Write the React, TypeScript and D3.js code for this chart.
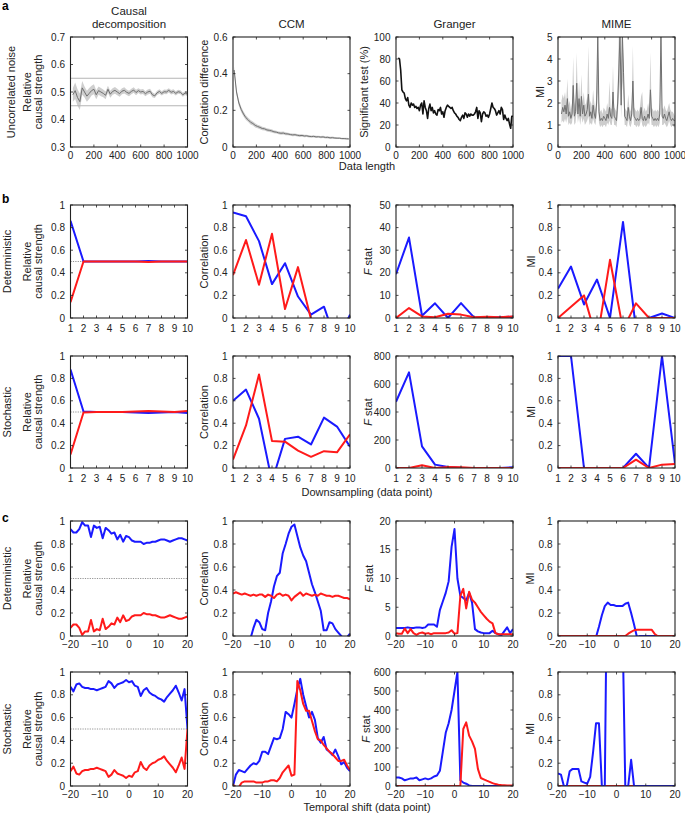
import React from "react";
import * as d3 from "d3";

const BLUE = "#1a1aff";
const RED = "#ff1a1a";
const FONT = "'Liberation Sans', Arial, Helvetica, sans-serif";

// ---------- Row a : uncorrelated noise vs data length ----------
const a1X = d3.range(20, 1001, 20);
const a1Mean = [
  0.49, 0.505, 0.48, 0.465, 0.515, 0.5, 0.485, 0.495, 0.505, 0.51,
  0.49, 0.505, 0.5, 0.495, 0.488, 0.51, 0.492, 0.502, 0.506, 0.5,
  0.494, 0.503, 0.506, 0.499, 0.495, 0.502, 0.507, 0.498, 0.505, 0.5,
  0.502, 0.494, 0.5, 0.503, 0.49, 0.486, 0.497, 0.502, 0.495, 0.501,
  0.5, 0.506, 0.499, 0.502, 0.495, 0.501, 0.499, 0.49, 0.496, 0.492,
];
const a1Spread = [
  0.025, 0.03, 0.03, 0.03, 0.025, 0.02, 0.02, 0.02, 0.018, 0.018,
  0.016, 0.015, 0.015, 0.014, 0.014, 0.013, 0.013, 0.012, 0.012, 0.012,
  0.011, 0.011, 0.011, 0.01, 0.01, 0.01, 0.01, 0.01, 0.009, 0.009,
  0.009, 0.009, 0.009, 0.009, 0.009, 0.008, 0.008, 0.008, 0.008, 0.008,
  0.008, 0.008, 0.008, 0.008, 0.008, 0.007, 0.007, 0.007, 0.007, 0.007,
];
const a1Bounds = [0.45, 0.55];

const ccmX = d3.range(10, 1000, 20);
const ccmMean = [
  0.42, 0.3, 0.24, 0.205, 0.18, 0.16, 0.148, 0.135, 0.128, 0.118,
  0.112, 0.107, 0.101, 0.099, 0.093, 0.091, 0.088, 0.083, 0.081, 0.077,
  0.075, 0.076, 0.072, 0.071, 0.068, 0.066, 0.067, 0.064, 0.062, 0.063,
  0.06, 0.061, 0.058, 0.057, 0.058, 0.055, 0.056, 0.054, 0.055, 0.052,
  0.053, 0.05, 0.051, 0.049, 0.048, 0.048, 0.046, 0.046, 0.045, 0.044,
];
const ccmSpread = [
  0.02, 0.018, 0.016, 0.015, 0.014, 0.013, 0.012, 0.012, 0.011, 0.011,
  0.01, 0.01, 0.01, 0.009, 0.009, 0.009, 0.009, 0.008, 0.008, 0.008,
  0.008, 0.008, 0.008, 0.007, 0.007, 0.007, 0.007, 0.007, 0.007, 0.007,
  0.007, 0.006, 0.006, 0.006, 0.006, 0.006, 0.006, 0.006, 0.006, 0.006,
  0.006, 0.006, 0.006, 0.006, 0.005, 0.005, 0.005, 0.005, 0.005, 0.005,
];

const grangerX = d3.range(20, 1001, 10);
const grangerSig = [
  81, 80, 70, 52, 50, 49, 44, 42, 45, 38,
  36, 40, 38, 39, 36, 37, 35, 36, 33, 38,
  40, 30, 42, 36, 33, 26, 35, 39, 33, 36,
  31, 33, 30, 29, 34, 33, 36, 30, 32, 27,
  33, 36, 38, 37, 36, 35, 36, 33, 31, 30,
  28, 27, 25, 24, 27, 29, 26, 31, 30, 27,
  30, 28, 30, 29, 29, 30, 32, 36, 26, 33,
  31, 23, 30, 32, 31, 28, 29, 27, 30, 35,
  40, 36, 35, 33, 29, 31, 33, 30, 36, 34,
  25, 29, 26, 24, 26, 21, 17, 28, 28,
];

const mimeX = d3.range(30, 1001, 10);
const mimeLine = [
  1.5, 1.8, 1.6, 1.9, 1.5, 2.2, 1.4, 1.6, 1.3, 1.5,
  2.8, 1.4, 1.6, 2.9, 1.5, 2.2, 1.4, 2.3, 1.5, 1.9,
  1.4, 1.5, 1.7, 2.4, 1.4, 1.6, 1.3, 1.9, 1.5, 1.3,
  2.0, 5.2, 1.6, 1.2, 1.3, 1.2, 1.4, 1.3, 1.2, 1.5,
  1.3, 1.8, 1.4, 1.3, 2.5, 1.4, 1.3, 1.2, 2.0, 3.5,
  5.2, 1.9, 5.2, 3.4, 1.4, 1.3, 1.2, 1.8, 1.4, 1.2,
  1.5, 3.0, 1.4, 1.3, 1.2, 1.3, 1.2, 1.3, 1.8, 1.3,
  1.2, 1.4, 1.2, 1.3, 1.5, 1.3, 2.6, 1.4, 1.3, 1.2,
  1.3, 1.2, 1.3, 1.2, 1.5, 5.2, 1.4, 1.3, 1.5, 1.3,
  1.2, 1.4, 1.6, 1.3, 1.2, 1.3, 1.2, 1.2,
];
const mimeUpper = [
  2.1, 2.4, 2.2, 2.5, 2.0, 3.1, 1.9, 2.1, 1.7, 2.0,
  4.1, 1.9, 2.2, 4.3, 2.0, 3.0, 1.9, 3.3, 2.0, 2.5,
  1.9, 2.0, 2.3, 4.6, 1.9, 2.1, 1.8, 2.6, 2.0, 1.7,
  2.6, 5.2, 2.1, 1.6, 1.7, 1.5, 1.8, 1.7, 1.6, 2.0,
  1.7, 3.0, 1.8, 1.7, 3.7, 1.8, 1.7, 1.6, 2.6, 5.2,
  5.2, 2.5, 5.2, 4.0, 1.8, 1.7, 1.6, 2.4, 1.8, 1.6,
  2.0, 4.6, 1.8, 1.7, 1.6, 1.7, 1.6, 1.8, 2.3, 2.5,
  1.6, 1.8, 1.6, 1.7, 2.0, 1.7, 4.3, 1.8, 1.7, 1.6,
  1.7, 1.6, 1.7, 1.6, 2.0, 5.2, 1.8, 1.7, 1.9, 1.7,
  1.6, 1.8, 2.0, 1.7, 1.6, 1.6, 1.5, 1.4,
];
const mimeLower = [
  1.1, 1.2, 1.1, 1.3, 1.1, 1.4, 1.0, 1.1, 1.0, 1.1,
  1.6, 1.0, 1.1, 1.7, 1.1, 1.4, 1.0, 1.4, 1.1, 1.3,
  1.0, 1.1, 1.2, 1.4, 1.0, 1.1, 1.0, 1.3, 1.1, 1.0,
  1.4, 2.5, 1.1, 0.9, 1.0, 0.9, 1.0, 1.0, 0.9, 1.1,
  1.0, 1.2, 1.0, 1.0, 1.5, 1.0, 1.0, 0.9, 1.4, 2.2,
  3.0, 1.3, 3.0, 2.2, 1.0, 1.0, 0.9, 1.3, 1.0, 0.9,
  1.1, 1.8, 1.0, 1.0, 0.9, 1.0, 0.9, 1.0, 1.3, 1.0,
  0.9, 1.0, 0.9, 1.0, 1.1, 1.0, 1.6, 1.0, 1.0, 0.9,
  1.0, 0.9, 1.0, 0.9, 1.1, 3.0, 1.0, 1.0, 1.1, 1.0,
  0.9, 1.0, 1.2, 1.0, 0.9, 1.0, 0.9, 0.9,
];

// ---------- Row b : downsampling ----------
const dsX = d3.range(1, 11);
const bDetCdBlue = [0.86, 0.5, 0.5, 0.5, 0.5, 0.5, 0.505, 0.5, 0.5, 0.5];
const bDetCdRed = [0.14, 0.5, 0.5, 0.5, 0.5, 0.5, 0.495, 0.5, 0.5, 0.5];
const bDetCcmBlue = [0.935, 0.9, 0.68, 0.3, 0.485, 0.19, 0.03, 0.1, -0.233, 0.03];
const bDetCcmRed = [0.38, 0.69, 0.295, 0.745, 0.08, 0.45, -0.01, -0.3, -0.3, -0.3];
const bDetGcBlue = [19.4, 35.6, 1.0, 6.5, 0, 6.6, 0.3, 0, 0.3, 0.6];
const bDetGcRed = [0, 4.4, 0.7, 0.3, 1.9, 1.5, 0.3, 0.6, 0.3, 0.7];
const bDetMiBlue = [0.26, 0.455, 0.12, 0.34, 0, 0.85, -0.1, 0, 0.04, 0];
const bDetMiRed = [0, 0.1, 0.2, -0.2, 0.515, -0.1, 0.13, 0, 0, 0];

const bStoCdBlue = [0.88, 0.505, 0.5, 0.5, 0.5, 0.495, 0.49, 0.495, 0.5, 0.49];
const bStoCdRed = [0.12, 0.495, 0.5, 0.5, 0.5, 0.505, 0.51, 0.505, 0.5, 0.51];
const bStoCcmBlue = [0.6, 0.7, 0.44, -0.12, 0.26, 0.28, 0.21, 0.45, 0.37, 0.19];
const bStoCcmRed = [0.075, 0.38, 0.835, 0.24, 0.235, 0.155, 0.1, 0.15, 0.14, 0.3];
const bStoGcBlue = [473, 683, 154, 24, 7, 0, 0, 0, 0, 5];
const bStoGcRed = [0, 0, 19, 0, 7, 5, 0, 0, 0, 0];
const bStoMiBlue = [1, 1, 0, 0, 0, 0, 0.127, 0, 1.0, 0.04];
const bStoMiRed = [0, 0, 0, 0, 0, 0, 0.074, 0, 0.03, 0.035];

// ---------- Row c : temporal shift ----------
const shiftX = d3.range(-20, 21);
const cDetCdBlue = [
  0.93, 0.9, 0.9, 0.93, 0.99, 0.96, 0.96, 0.86, 0.96, 0.94,
  0.95, 0.85, 0.94, 0.92, 0.89, 0.9, 0.84, 0.88, 0.82, 0.87,
  0.86, 0.83, 0.82, 0.82, 0.82, 0.8, 0.81, 0.81, 0.82, 0.82,
  0.83, 0.84, 0.84, 0.83, 0.82, 0.83, 0.84, 0.85, 0.85, 0.84, 0.83,
];
const cDetCdRed = [
  0.07, 0.1, 0.1, 0.07, 0.01, 0.04, 0.04, 0.14, 0.04, 0.06,
  0.05, 0.15, 0.06, 0.08, 0.11, 0.1, 0.16, 0.12, 0.18, 0.13,
  0.14, 0.17, 0.18, 0.18, 0.18, 0.2, 0.19, 0.19, 0.18, 0.18,
  0.17, 0.16, 0.16, 0.17, 0.18, 0.17, 0.16, 0.15, 0.15, 0.16, 0.17,
];
const cDetCcmBlue = [
  -0.4, -0.35, -0.3, -0.25, -0.2, -0.12, -0.02, 0.07, 0.14, 0.12,
  0.06, 0.05, 0.2, 0.3, 0.43, 0.52, 0.55, 0.72, 0.8, 0.89,
  0.95, 0.97, 0.87, 0.77, 0.7, 0.65, 0.55, 0.45, 0.38, 0.3,
  0.22, 0.05, 0.05, 0.12, 0.11, 0.06, 0.03, 0.0, -0.03, -0.01, 0.02,
];
const cDetCcmRed = [
  0.37, 0.38, 0.37, 0.36, 0.37, 0.36, 0.35, 0.36, 0.35, 0.36,
  0.36, 0.34, 0.36, 0.35, 0.33, 0.36, 0.37, 0.35, 0.36, 0.35,
  0.31, 0.34, 0.36, 0.38, 0.35, 0.37, 0.36, 0.35, 0.36, 0.35,
  0.37, 0.36, 0.35, 0.35, 0.34, 0.35, 0.35, 0.34, 0.33, 0.33, 0.32,
];
const cDetGcBlue = [
  1.4, 1.4, 1.4, 1.4, 1.5, 1.4, 1.4, 1.5, 1.5, 1.4,
  1.5, 2.0, 2.0, 2.0, 1.6, 4.5, 6.0, 7.5, 9.5, 15.5,
  18.6, 10.0, 7.0, 6.6, 6.2, 7.5, 5.8, 1.2, 0.8, 0.6,
  0.5, 0.5, 0.5, 0.9, 0.5, 0.3, 0.1, 0.8, 1.5, 0.5, 1.2,
];
const cDetGcRed = [
  0.5, 0.4, 0.4, 1.3, 0.5, 1.2, 0.5, 0.2, 0.5, 0.6,
  0.4, 0.5, 0.3, 0.5, 0.5, 0.5, 0.5, 0.5, 0.6, 1.0,
  0.4, 0.5, 7.0, 8.2, 4.8, 7.7, 6.3, 5.8, 5.0, 4.2,
  3.6, 3.0, 2.5, 2.2, 0.5, 0.3, 0.3, 0.3, 0.3, 0.3, 0.3,
];
const cDetMiBlue = [
  0, 0, 0, 0, 0, 0, 0, 0, 0, 0,
  0, 0, 0, -0.01, 0.08, 0.18, 0.26, 0.29, 0.27, 0.27,
  0.26, 0.26, 0.26, 0.28, 0.29, 0.2, 0.1, -0.01, 0, 0,
  0, 0, 0, 0, 0, 0, 0, 0, 0, 0, 0,
];
const cDetMiRed = [
  0, 0, 0, 0, 0, 0, 0, 0, 0, 0,
  0, 0, 0, 0, 0, 0, 0, 0, 0, 0,
  0, 0, 0, 0, 0.02, 0.035, 0.05, 0.055, 0.055, 0.055,
  0.055, 0.055, 0.055, 0.02, 0, 0, 0, 0, 0, 0, 0,
];

const cStoCdBlue = [
  0.87, 0.83, 0.89, 0.9, 0.87, 0.86, 0.86, 0.85, 0.85, 0.84,
  0.85, 0.86, 0.87, 0.92, 0.9, 0.86, 0.89, 0.9, 0.91, 0.93,
  0.91, 0.92, 0.88, 0.87, 0.79, 0.84, 0.86, 0.82, 0.8, 0.79,
  0.77, 0.76, 0.74, 0.78, 0.81, 0.84, 0.88, 0.82, 0.75, 0.85, 0.5,
];
const cStoCdRed = [
  0.13, 0.17, 0.11, 0.1, 0.13, 0.14, 0.14, 0.15, 0.15, 0.16,
  0.15, 0.14, 0.13, 0.08, 0.1, 0.14, 0.11, 0.1, 0.09, 0.07,
  0.09, 0.08, 0.12, 0.13, 0.21, 0.16, 0.14, 0.18, 0.2, 0.21,
  0.23, 0.24, 0.26, 0.22, 0.19, 0.16, 0.12, 0.18, 0.25, 0.15, 0.5,
];
const cStoCcmBlue = [
  0.0, 0.1, 0.14, 0.13, 0.12, 0.15, 0.18, 0.2, 0.19, 0.22,
  0.3, 0.3, 0.28, 0.35, 0.42, 0.41, 0.42, 0.5, 0.65, 0.63,
  0.6, 0.72, 0.85, 0.94, 0.8, 0.7, 0.6, 0.65, 0.58, 0.42,
  0.38, 0.43, 0.32, 0.3, 0.27, 0.32, 0.26, 0.19, 0.21, 0.16, 0.13,
];
const cStoCcmRed = [
  0.01, -0.01, -0.01, 0.03, 0.04, 0.04, 0.04, 0.04, 0.03, 0.03,
  0.03, 0.04, 0.04, 0.05, 0.05, 0.04, 0.07, 0.12, 0.15, 0.18,
  0.09, 0.1, 0.92, 0.84, 0.72, 0.66, 0.66, 0.57, 0.48, 0.41,
  0.4, 0.36, 0.33, 0.3, 0.28, 0.25, 0.22, 0.22, 0.23, 0.18, 0.14,
];
const cStoGcBlue = [
  45, 45, 40, 30, 35, 40, 40, 45, 30, 35,
  40, 35, 40, 50, 55, 80, 180, 280, 330, 400,
  500, 600, 30, 18, 12, 3, 0, 0, 0, 0,
  0, 0, 0, 0, 0, 0, 0, 0, 0, 0, 0,
];
const cStoGcRed = [
  0, 0, 0, 0, 0, 0, 0, 0, 0, 0,
  0, 0, 0, 0, 0, 0, 0, 0, 0, 0,
  0, 0, 0, 300, 335, 265, 235, 195, 90, 42,
  35, 28, 22, 15, 10, 7, 5, 4, 3, 3, 3,
];
const cStoMiBlue = [
  0.11, 0.1, 0.0, 0.0, 0.13, 0.15, 0.15, 0.15, 0.04, 0.03,
  0.02, 0.08, 0.3, 0.55, 0.55, 0.0, 0.0, 2.5, 2.5, 2.5,
  2.5, 2.5, 1.5, 0, 0, 0.23, 0, 0, 0, 0,
  0, 0, 0, 0, 0, 0, 0, 0, 0, 0, 0,
];
const cStoMiRed = [
  0, 0, 0, 0, 0, 0, 0, 0, 0, 0,
  0, 0, 0, 0, 0, 0, 0, 0, 0, 0,
  0, 0, 0, 0, 0, 0, 0, 0, 0, 0,
  0, 0, 0, 0, 0, 0, 0, 0, 0, 0, 0,
];

// ---------- Ticks & labels ----------
const lengthTicks = [0, 200, 400, 600, 800, 1000];
const dsTicks = [1, 2, 3, 4, 5, 6, 7, 8, 9, 10];
const shiftTicks = [-20, -10, 0, 10, 20];
const unitTicks = [0, 0.2, 0.4, 0.6, 0.8, 1];
const cdNoiseTicks = [0.3, 0.4, 0.5, 0.6, 0.7];
const ccmNoiseTicks = [0, 0.2, 0.4, 0.6];
const pctTicks = [0, 20, 40, 60, 80, 100];
const miNoiseTicks = [0, 1, 2, 3, 4, 5];
const fDetDsTicks = [0, 10, 20, 30, 40, 50];
const fStoDsTicks = [0, 200, 400, 600, 800];
const fDetShiftTicks = [0, 5, 10, 15, 20];
const fStoShiftTicks = [0, 100, 200, 300, 400, 500, 600];
const columnTitles = [["Causal", "decomposition"], ["CCM"], ["Granger"], ["MIME"]];
const rowNames = ["Uncorrelated noise", "Deterministic", "Stochastic", "Deterministic", "Stochastic"];
const xAxisTitles = ["Data length", "Downsampling (data point)", "Temporal shift (data point)"];

// ---------- Layout ----------
const COLS = [70.5, 233, 396, 558];
const PW = 117;

type LineS = { x: number[]; y: number[]; color: string; width: number };
type BandS = { x: number[]; lo: number[]; hi: number[]; fill: string };
type HLineS = { y: number; color: string; width: number; dash?: string };
type YLab = { text: string; x: number; f?: boolean };
type PanelSpec = {
  id: string; left: number; top: number; height: number;
  xDomain: [number, number]; yDomain: [number, number];
  xTicks: number[]; yTicks: number[]; xFmt: (d: number) => string;
  xGap: number; yLabel: YLab[];
  lines: LineS[]; bands?: BandS[]; hlines?: HLineS[];
};

const fmtShift = (d: number) => (d < 0 ? `\u2212${-d}` : `${d}`);
const fmtPlain = (d: number) => `${d}`;

function Panel({ p }: { p: PanelSpec }) {
  const w = PW;
  const x = d3.scaleLinear().domain(p.xDomain).range([p.left, p.left + w]);
  const y = d3.scaleLinear().domain(p.yDomain).range([p.top + p.height, p.top]);
  const bottom = p.top + p.height;
  const right = p.left + w;
  const TL = 2.5;
  const cy = p.top + p.height / 2;
  return (
    <g>
      <defs>
        <clipPath id={`clip-${p.id}`}>
          <rect x={p.left} y={p.top} width={w} height={p.height} />
        </clipPath>
      </defs>
      <g clipPath={`url(#clip-${p.id})`}>
        {(p.bands || []).map((b, i) => {
          const area = d3
            .area<number>()
            .x((_, j) => x(b.x[j]))
            .y0((_, j) => y(b.lo[j]))
            .y1((_, j) => y(b.hi[j]));
          return <path key={`b${i}`} d={area(b.lo) || ""} fill={b.fill} stroke="none" />;
        })}
        {(p.hlines || []).map((h, i) => (
          <line key={`h${i}`} x1={p.left} x2={right} y1={y(h.y)} y2={y(h.y)} stroke={h.color} strokeWidth={h.width} strokeDasharray={h.dash} />
        ))}
        {p.lines.map((l, i) => {
          const gen = d3
            .line<number>()
            .x((_, j) => x(l.x[j]))
            .y((d) => y(d));
          return <path key={`l${i}`} d={gen(l.y) || ""} fill="none" stroke={l.color} strokeWidth={l.width} strokeLinejoin="round" />;
        })}
      </g>
      {p.xTicks.map((t) => (
        <g key={`xt${t}`}>
          <line x1={x(t)} x2={x(t)} y1={bottom} y2={bottom - TL} stroke="#222" strokeWidth={0.8} />
          <line x1={x(t)} x2={x(t)} y1={p.top} y2={p.top + TL} stroke="#222" strokeWidth={0.8} />
          <text x={x(t)} y={bottom + p.xGap} textAnchor="middle" fontSize={10} fill="#222">
            {p.xFmt(t)}
          </text>
        </g>
      ))}
      {p.yTicks.map((t) => (
        <g key={`yt${t}`}>
          <line x1={p.left} x2={p.left + TL} y1={y(t)} y2={y(t)} stroke="#222" strokeWidth={0.8} />
          <line x1={right} x2={right - TL} y1={y(t)} y2={y(t)} stroke="#222" strokeWidth={0.8} />
          <text x={p.left - 5.5} y={y(t)} dy="0.35em" textAnchor="end" fontSize={10} fill="#222">
            {`${t}`}
          </text>
        </g>
      ))}
      <rect x={p.left} y={p.top} width={w} height={p.height} fill="none" stroke="#222" strokeWidth={1.1} />
      {p.yLabel.map((lab, i) => (
        <text key={`yl${i}`} transform={`translate(${lab.x},${cy}) rotate(-90)`} textAnchor="middle" fontSize={11} fill="#222">
          {lab.f ? (
            <>
              <tspan fontStyle="italic">F</tspan>
              <tspan>{" stat"}</tspan>
            </>
          ) : (
            lab.text
          )}
        </text>
      ))}
    </g>
  );
}

export default function App() {
  const cdLabel: YLab[] = [
    { text: "Relative", x: 30.5 },
    { text: "causal strength", x: 42 },
  ];
  const half: HLineS = { y: 0.5, color: "#777", width: 0.8, dash: "1.2,1.2" };
  const L = (xs: number[], ys: number[], color: string, width = 2): LineS => ({ x: xs, y: ys, color, width });

  const rowA = { top: 37, height: 110 };
  const rowB1 = { top: 205, height: 113 };
  const rowB2 = { top: 356, height: 112 };
  const rowC1 = { top: 521, height: 115 };
  const rowC2 = { top: 672, height: 114 };

  const panels: PanelSpec[] = [
    // Row a
    {
      id: "a1", left: COLS[0], ...rowA, xDomain: [0, 1000], yDomain: [0.3, 0.7],
      xTicks: lengthTicks, yTicks: cdNoiseTicks, xFmt: fmtPlain, xGap: 12, yLabel: cdLabel,
      bands: [{ x: a1X, lo: a1Mean.map((m, i) => m - a1Spread[i]), hi: a1Mean.map((m, i) => m + a1Spread[i]), fill: "#cfcfcf" }],
      hlines: a1Bounds.map((b) => ({ y: b, color: "#b5b5b5", width: 1 })),
      lines: [L(a1X, a1Mean, "#707070", 1)],
    },
    {
      id: "a2", left: COLS[1], ...rowA, xDomain: [0, 1000], yDomain: [0, 0.6],
      xTicks: lengthTicks, yTicks: ccmNoiseTicks, xFmt: fmtPlain, xGap: 12,
      yLabel: [{ text: "Correlation difference", x: 208 }],
      bands: [{ x: ccmX, lo: ccmMean.map((m, i) => m - ccmSpread[i]), hi: ccmMean.map((m, i) => m + ccmSpread[i]), fill: "#cfcfcf" }],
      lines: [L(ccmX, ccmMean, "#707070", 1)],
    },
    {
      id: "a3", left: COLS[2], ...rowA, xDomain: [0, 1000], yDomain: [0, 100],
      xTicks: lengthTicks, yTicks: pctTicks, xFmt: fmtPlain, xGap: 12,
      yLabel: [{ text: "Significant test (%)", x: 368 }],
      lines: [L(grangerX, grangerSig, "#111", 1.6)],
    },
    {
      id: "a4", left: COLS[3], ...rowA, xDomain: [0, 1000], yDomain: [0, 5],
      xTicks: lengthTicks, yTicks: miNoiseTicks, xFmt: fmtPlain, xGap: 12,
      yLabel: [{ text: "MI", x: 544 }],
      bands: [{ x: mimeX, lo: mimeLower, hi: mimeUpper, fill: "#cdcdcd" }],
      lines: [L(mimeX, mimeLine, "#707070", 1)],
    },
    // Row b deterministic
    {
      id: "b1", left: COLS[0], ...rowB1, xDomain: [1, 10], yDomain: [0, 1],
      xTicks: dsTicks, yTicks: unitTicks, xFmt: fmtPlain, xGap: 14, yLabel: cdLabel, hlines: [half],
      lines: [L(dsX, bDetCdBlue, BLUE), L(dsX, bDetCdRed, RED)],
    },
    {
      id: "b2", left: COLS[1], ...rowB1, xDomain: [1, 10], yDomain: [0, 1],
      xTicks: dsTicks, yTicks: unitTicks, xFmt: fmtPlain, xGap: 14,
      yLabel: [{ text: "Correlation", x: 207.5 }],
      lines: [L(dsX, bDetCcmBlue, BLUE), L(dsX, bDetCcmRed, RED)],
    },
    {
      id: "b3", left: COLS[2], ...rowB1, xDomain: [1, 10], yDomain: [0, 50],
      xTicks: dsTicks, yTicks: fDetDsTicks, xFmt: fmtPlain, xGap: 14,
      yLabel: [{ text: "F stat", x: 372, f: true }],
      lines: [L(dsX, bDetGcBlue, BLUE), L(dsX, bDetGcRed, RED)],
    },
    {
      id: "b4", left: COLS[3], ...rowB1, xDomain: [1, 10], yDomain: [0, 1],
      xTicks: dsTicks, yTicks: unitTicks, xFmt: fmtPlain, xGap: 14,
      yLabel: [{ text: "MI", x: 535 }],
      lines: [L(dsX, bDetMiBlue, BLUE), L(dsX, bDetMiRed, RED)],
    },
    // Row b stochastic
    {
      id: "b5", left: COLS[0], ...rowB2, xDomain: [1, 10], yDomain: [0, 1],
      xTicks: dsTicks, yTicks: unitTicks, xFmt: fmtPlain, xGap: 14, yLabel: cdLabel, hlines: [half],
      lines: [L(dsX, bStoCdBlue, BLUE), L(dsX, bStoCdRed, RED)],
    },
    {
      id: "b6", left: COLS[1], ...rowB2, xDomain: [1, 10], yDomain: [0, 1],
      xTicks: dsTicks, yTicks: unitTicks, xFmt: fmtPlain, xGap: 14,
      yLabel: [{ text: "Correlation", x: 207.5 }],
      lines: [L(dsX, bStoCcmBlue, BLUE), L(dsX, bStoCcmRed, RED)],
    },
    {
      id: "b7", left: COLS[2], ...rowB2, xDomain: [1, 10], yDomain: [0, 800],
      xTicks: dsTicks, yTicks: fStoDsTicks, xFmt: fmtPlain, xGap: 14,
      yLabel: [{ text: "F stat", x: 372, f: true }],
      lines: [L(dsX, bStoGcBlue, BLUE), L(dsX, bStoGcRed, RED)],
    },
    {
      id: "b8", left: COLS[3], ...rowB2, xDomain: [1, 10], yDomain: [0, 1],
      xTicks: dsTicks, yTicks: unitTicks, xFmt: fmtPlain, xGap: 14,
      yLabel: [{ text: "MI", x: 535 }],
      lines: [L(dsX, bStoMiBlue, BLUE), L(dsX, bStoMiRed, RED)],
    },
    // Row c deterministic
    {
      id: "c1", left: COLS[0], ...rowC1, xDomain: [-20, 20], yDomain: [0, 1],
      xTicks: shiftTicks, yTicks: unitTicks, xFmt: fmtShift, xGap: 12, yLabel: cdLabel, hlines: [half],
      lines: [L(shiftX, cDetCdBlue, BLUE), L(shiftX, cDetCdRed, RED)],
    },
    {
      id: "c2", left: COLS[1], ...rowC1, xDomain: [-20, 20], yDomain: [0, 1],
      xTicks: shiftTicks, yTicks: unitTicks, xFmt: fmtShift, xGap: 12,
      yLabel: [{ text: "Correlation", x: 207.5 }],
      lines: [L(shiftX, cDetCcmBlue, BLUE), L(shiftX, cDetCcmRed, RED)],
    },
    {
      id: "c3", left: COLS[2], ...rowC1, xDomain: [-20, 20], yDomain: [0, 20],
      xTicks: shiftTicks, yTicks: fDetShiftTicks, xFmt: fmtShift, xGap: 12,
      yLabel: [{ text: "F stat", x: 373, f: true }],
      lines: [L(shiftX, cDetGcBlue, BLUE), L(shiftX, cDetGcRed, RED)],
    },
    {
      id: "c4", left: COLS[3], ...rowC1, xDomain: [-20, 20], yDomain: [0, 1],
      xTicks: shiftTicks, yTicks: unitTicks, xFmt: fmtShift, xGap: 12,
      yLabel: [{ text: "MI", x: 534 }],
      lines: [L(shiftX, cDetMiBlue, BLUE), L(shiftX, cDetMiRed, RED)],
    },
    // Row c stochastic
    {
      id: "c5", left: COLS[0], ...rowC2, xDomain: [-20, 20], yDomain: [0, 1],
      xTicks: shiftTicks, yTicks: unitTicks, xFmt: fmtShift, xGap: 12, yLabel: cdLabel, hlines: [half],
      lines: [L(shiftX, cStoCdBlue, BLUE), L(shiftX, cStoCdRed, RED)],
    },
    {
      id: "c6", left: COLS[1], ...rowC2, xDomain: [-20, 20], yDomain: [0, 1],
      xTicks: shiftTicks, yTicks: unitTicks, xFmt: fmtShift, xGap: 12,
      yLabel: [{ text: "Correlation", x: 207.5 }],
      lines: [L(shiftX, cStoCcmBlue, BLUE), L(shiftX, cStoCcmRed, RED)],
    },
    {
      id: "c7", left: COLS[2], ...rowC2, xDomain: [-20, 20], yDomain: [0, 600],
      xTicks: shiftTicks, yTicks: fStoShiftTicks, xFmt: fmtShift, xGap: 12,
      yLabel: [{ text: "F stat", x: 370, f: true }],
      lines: [L(shiftX, cStoGcBlue, BLUE), L(shiftX, cStoGcRed, RED)],
    },
    {
      id: "c8", left: COLS[3], ...rowC2, xDomain: [-20, 20], yDomain: [0, 1],
      xTicks: shiftTicks, yTicks: unitTicks, xFmt: fmtShift, xGap: 12,
      yLabel: [{ text: "MI", x: 534 }],
      lines: [L(shiftX, cStoMiRed, RED), L(shiftX, cStoMiBlue, BLUE)],
    },
  ];

  const rowCenters = [
    { y: rowA.top + rowA.height / 2, x: 15 },
    { y: rowB1.top + rowB1.height / 2, x: 10.5 },
    { y: rowB2.top + rowB2.height / 2, x: 10.5 },
    { y: rowC1.top + rowC1.height / 2, x: 10.5 },
    { y: rowC2.top + rowC2.height / 2, x: 10.5 },
  ];

  return (
    <svg
      width={685}
      height={816}
      style={{ position: "absolute", left: 0, top: 0, background: "#fff" }}
      fontFamily={FONT}
    >
      <rect x={0} y={0} width={685} height={816} fill="#fff" />
      <text x={2} y={10} fontSize={12} fontWeight="bold">a</text>
      <text x={2} y={203} fontSize={12} fontWeight="bold">b</text>
      <text x={2} y={522} fontSize={12} fontWeight="bold">c</text>
      {columnTitles.map((lines, i) =>
        lines.map((t, j) => (
          <text
            key={`ct${i}${j}`}
            x={COLS[i] + PW / 2}
            y={28 - (lines.length - 1 - j) * 13.5}
            textAnchor="middle"
            fontSize={11.5}
            fill="#222"
          >
            {t}
          </text>
        ))
      )}
      {rowNames.map((n, i) => (
        <text
          key={`rn${i}`}
          transform={`translate(${rowCenters[i].x},${rowCenters[i].y}) rotate(-90)`}
          textAnchor="middle"
          fontSize={11}
          fill="#222"
        >
          {n}
        </text>
      ))}
      <text x={367} y={170} textAnchor="middle" fontSize={11} fill="#222">{xAxisTitles[0]}</text>
      <text x={367} y={496} textAnchor="middle" fontSize={11} fill="#222">{xAxisTitles[1]}</text>
      <text x={367} y={811} textAnchor="middle" fontSize={11} fill="#222">{xAxisTitles[2]}</text>
      {panels.map((p) => (
        <Panel key={p.id} p={p} />
      ))}
    </svg>
  );
}
